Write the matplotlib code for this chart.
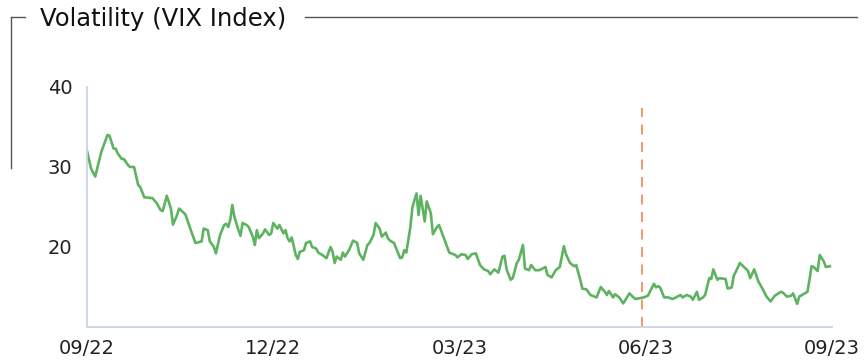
import datetime as dt
import matplotlib
matplotlib.use("Agg")
import matplotlib.pyplot as plt
import matplotlib.dates as mdates
from matplotlib.lines import Line2D

plt.rcParams['font.family'] = ['DejaVu Sans']

title = "Volatility (VIX Index)"
start = dt.date(2022, 9, 30)
marker_date = dt.date(2023, 6, 28)
tick_dates = [dt.date(2022, 9, 30), dt.date(2022, 12, 30), dt.date(2023, 3, 31),
              dt.date(2023, 6, 30), dt.date(2023, 9, 29)]

# calendar days after start
days = [0, 2, 4, 6, 7, 10, 11, 13, 14, 15, 17, 18, 20, 21, 23, 25, 26, 28, 29, 32,
        34, 36, 37, 39, 41, 42, 44, 45,
        48, 49, 51, 53, 56, 57, 59, 60, 62, 63, 65, 67, 68, 69, 70, 71, 72, 74, 75, 76,
        78, 79, 81, 82, 83, 84, 86, 87, 89, 90,
        91, 93, 94, 96, 97, 98, 99, 100, 102, 103, 104, 106, 107, 109, 110, 112, 113,
        115, 117, 119, 120, 121, 122, 124, 125, 126, 128, 130, 132, 133, 135, 137, 138,
        140, 141, 143, 144, 146, 147, 148, 150, 153, 154, 155, 156, 158, 159, 161, 162,
        163, 165, 166, 168, 169, 171, 172,
        175, 177, 180, 181, 183, 185, 186, 188, 190, 192, 194, 196, 197, 199, 201, 203,
        204, 205, 207, 208, 210, 211, 213, 214, 216, 217, 219, 221, 224, 225, 227, 229,
        231, 233, 234, 236, 238, 239, 241, 242, 244, 246, 247, 249, 251, 253, 254, 255,
        257, 258, 260, 262, 264, 265, 267, 268, 270, 272, 274, 275, 277, 278, 279, 280,
        282, 284, 286, 287, 290, 291, 293, 295, 296, 298, 299, 301, 302, 304, 305, 306,
        308, 309, 312, 313, 315, 316, 317, 319, 321, 323, 324, 326, 328, 330, 332, 334,
        336, 339, 340, 342, 344, 345, 347, 348, 350, 352, 353, 354, 355, 357, 358, 360,
        361, 363]

vix = [32.0, 29.8, 28.8, 30.9, 31.9, 34.0, 33.9, 32.3, 32.3, 31.7, 31.0, 31.0, 30.25,
       30.0, 30.0, 27.75, 27.5, 26.2, 26.2, 26.1, 25.5, 24.6, 24.5, 26.4, 24.8, 22.8,
       24.0, 24.8,
       24.1, 23.4, 21.9, 20.5, 20.7, 22.3, 22.1, 20.7, 20.0, 19.2, 21.5, 22.75, 22.9,
       22.5, 23.4, 25.25, 23.8, 22.1, 21.4, 23.0, 22.75, 22.5, 21.3, 20.25, 22.1, 21.1,
       21.7, 22.2, 21.5, 21.7,
       23.0, 22.3, 22.75, 21.7, 22.1, 21.1, 20.7, 21.2, 19.0, 18.5, 19.4, 19.6, 20.5,
       20.7, 20.0, 19.8, 19.3, 19.0, 18.6, 20.0, 19.4, 18.0, 18.8, 18.4, 19.3, 18.8,
       19.6, 20.8, 20.5, 19.2, 18.4, 20.25, 20.5, 21.5, 23.0, 22.3, 21.3, 21.8, 21.1,
       20.8, 20.5, 18.6, 18.7, 19.6, 19.3, 22.5, 25.0, 26.7, 24.0, 26.4, 23.2, 25.7,
       24.2, 21.6, 22.5, 22.75,
       20.7, 19.3, 19.0, 18.7, 19.1, 19.0, 18.5, 19.1, 19.2, 17.75, 17.2, 17.0, 16.6,
       17.2, 16.8, 18.8, 18.9, 17.2, 15.9, 16.1, 18.0, 18.4, 20.25, 17.3, 17.1, 17.75,
       17.1, 17.1, 17.5, 16.5, 16.2, 17.1, 17.5, 20.1, 19.1, 18.0, 17.6, 17.75, 15.9,
       14.8, 14.7, 14.0, 13.9, 13.7, 15.0, 14.4, 14.0, 14.5, 13.7, 14.1, 13.7, 12.95,
       13.8, 14.2, 13.7, 13.5, 13.6, 13.7, 13.9, 14.4, 15.4, 14.95, 15.1, 14.95, 13.7,
       13.7, 13.5, 13.6, 14.0, 13.7, 14.0, 13.8, 13.4, 14.4, 13.4, 13.7, 14.0, 16.1,
       16.0, 17.2, 15.9, 16.1, 16.0, 14.8, 14.95, 16.4, 16.9, 18.0, 17.5, 17.0, 16.1,
       17.2, 15.7, 14.8, 13.8, 13.2, 13.9, 14.4, 14.3, 13.8, 13.9, 14.2, 12.9, 13.8,
       14.1, 14.4, 15.9, 17.6, 17.5, 17.0, 19.0, 18.2, 17.5, 17.6]

dates = [start + dt.timedelta(days=d) for d in days]

fig = plt.figure(figsize=(8.65, 3.61), dpi=100)
ax = fig.add_axes([87 / 865, 1 - 327 / 361, (832 - 87) / 865, (327 - 87) / 361])

ax.plot(dates, vix, color='#5db360', lw=1.9, solid_joinstyle='round')
ax.vlines(marker_date, 10, 37.4, color='#f0874a', lw=1.2, linestyles=(0, (6, 4.5)))

ax.set_ylim(10, 40)
ax.set_yticks([20, 30, 40])
ax.set_xlim(start, tick_dates[-1])
ax.set_xticks(tick_dates)
ax.xaxis.set_major_formatter(mdates.DateFormatter('%m/%y'))
ax.tick_params(length=0, labelsize=14, colors='#222222')
ax.tick_params(axis='x', pad=9)
ax.tick_params(axis='y', pad=10.5)

for s in ['top', 'right']:
    ax.spines[s].set_visible(False)
for s in ['left', 'bottom']:
    ax.spines[s].set_color('#c9d3e6')
    ax.spines[s].set_linewidth(1.3)

# header with bracket lines
fig.text(40 / 865, 1 - 19 / 361, title, fontsize=17.5, color='#111111', va='center', ha='left')
ly = 1 - 17 / 361
fig.add_artist(Line2D([305 / 865, 857 / 865], [ly, ly], color='#555555', lw=1.0))
fig.add_artist(Line2D([11 / 865, 25 / 865], [ly, ly], color='#555555', lw=1.0))
fig.add_artist(Line2D([11 / 865, 11 / 865], [ly, 1 - 168 / 361], color='#555555', lw=1.0))

fig.savefig('out.png', dpi=100)
